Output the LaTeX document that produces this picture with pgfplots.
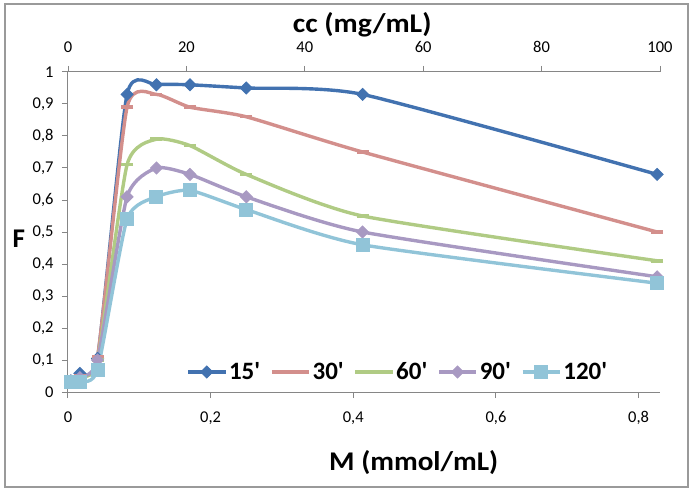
\documentclass[border=0pt]{standalone}
\usepackage{fontspec}
\setmainfont{Carlito}
\newfontfamily\legfont{Carlito}
\usepackage{pgfplots}
\pgfplotsset{compat=1.18}
\definecolor{cA}{HTML}{4272B0}
\definecolor{cB}{HTML}{D38F8C}
\definecolor{cC}{HTML}{B0CB84}
\definecolor{cD}{HTML}{A899C2}
\definecolor{cE}{HTML}{91C4D8}
\definecolor{axgray}{HTML}{868686}
\definecolor{bordergray}{HTML}{9A9A9A}
\begin{document}
\begin{tikzpicture}
\useasboundingbox (-68bp,-97bp) rectangle (631bp,392bp);
\draw[color=bordergray, line width=1.3bp] (-63bp,-95bp) rectangle (620bp,388bp);
\begin{axis}[
  at={(0bp,0bp)}, anchor=south west,
  width=592bp, height=320bp, scale only axis,
  xmin=0, xmax=0.83, ymin=0, ymax=1,
  axis x line*=bottom, axis y line*=left,
  axis line style={draw=axgray, line width=1bp, -},
  tick style={draw=axgray, line width=1bp},
  major tick length=6bp,
  tick align=outside,
  xtick={0,0.2,0.4,0.6,0.8},
  ytick={0,0.1,0.2,0.3,0.4,0.5,0.6,0.7,0.8,0.9,1},
  /pgf/number format/use comma,
  /pgf/number format/assume math mode=true,
  tick label style={font=\fontsize{16.5bp}{19bp}\selectfont},
  xticklabel style={yshift=-10bp},
  yticklabel style={xshift=-5bp},
  xlabel={\scalebox{1.08}[1]{M (mmol/mL)}},
  ylabel={F},
  every axis x label/.style={at={(rel axis cs:0.584,-0.219)}, anchor=center, font=\bfseries\fontsize{27bp}{32bp}\selectfont},
  every axis y label/.style={at={(rel axis cs:-0.083,0.478)}, anchor=center, font=\bfseries\fontsize{27bp}{32bp}\selectfont},
  legend columns=5,
  legend style={at={(rel axis cs:0.195,0.0625)}, anchor=west, draw=none, fill=none,
    font=\legfont\bfseries\fontsize{25bp}{30bp}\selectfont,
    nodes={inner xsep=2bp, inner ysep=1bp},
    /tikz/every even column/.append style={column sep=8bp}},
  legend image code/.code={\draw[mark repeat=2,mark phase=2] plot coordinates {(0bp,0bp) (18.5bp,0bp) (37bp,0bp)};},
]
\addplot[color=cA, line width=3.4bp, smooth, tension=0.35, mark=square*, mark size=4.2bp, mark options={rotate=45, solid, fill=cA, line width=1bp}] coordinates {
(0.004,0.035) (0.0166,0.058) (0.0414,0.105) (0.0828,0.93) (0.124,0.96) (0.171,0.96) (0.25,0.95) (0.413,0.93) (0.826,0.68)};
\addlegendentry{15'}
\addplot[color=cB, line width=3.4bp, smooth, tension=0.35, mark=-, mark size=6bp, mark options={solid}] coordinates {
(0.004,0.035) (0.0166,0.05) (0.0414,0.11) (0.0828,0.89) (0.124,0.93) (0.171,0.89) (0.25,0.86) (0.413,0.75) (0.826,0.50)};
\addlegendentry{30'}
\addplot[color=cC, line width=3.4bp, smooth, tension=0.35, mark=-, mark size=6bp, mark options={solid}] coordinates {
(0.004,0.035) (0.0166,0.045) (0.0414,0.10) (0.0828,0.71) (0.124,0.79) (0.171,0.77) (0.25,0.68) (0.413,0.55) (0.826,0.41)};
\addlegendentry{60'}
\addplot[color=cD, line width=3.4bp, smooth, tension=0.35, mark=square*, mark size=4.2bp, mark options={rotate=45, solid, fill=cD, line width=1bp}] coordinates {
(0.004,0.035) (0.0166,0.045) (0.0414,0.10) (0.0828,0.61) (0.124,0.70) (0.171,0.68) (0.25,0.61) (0.413,0.50) (0.826,0.36)};
\addlegendentry{90'}
\addplot[color=cE, line width=3.4bp, smooth, tension=0.35, mark=square*, mark size=6.5bp, mark options={solid, fill=cE, line width=1bp}] coordinates {
(0.004,0.032) (0.0166,0.032) (0.0414,0.07) (0.0828,0.54) (0.124,0.61) (0.171,0.63) (0.25,0.57) (0.413,0.46) (0.826,0.34)};
\addlegendentry{120'}
\end{axis}
\begin{axis}[
  at={(0bp,0bp)}, anchor=south west,
  width=592bp, height=320bp, scale only axis,
  xmin=0, xmax=100, ymin=0, ymax=1,
  axis x line*=top, hide y axis,
  axis line style={draw=axgray, line width=1bp, -},
  tick style={draw=axgray, line width=1bp},
  major tick length=6bp,
  tick align=outside,
  xtick={0,20,40,60,80,100},
  /pgf/number format/assume math mode=true,
  tick label style={font=\fontsize{16.5bp}{19bp}\selectfont},
  xticklabel style={yshift=10bp},
  xlabel={\scalebox{1.1}[1]{cc (mg/mL)}},
  every axis x label/.style={at={(rel axis cs:0.497,1.147)}, anchor=center, font=\bfseries\fontsize{27bp}{32bp}\selectfont},
]
\end{axis}
\end{tikzpicture}
\end{document}
